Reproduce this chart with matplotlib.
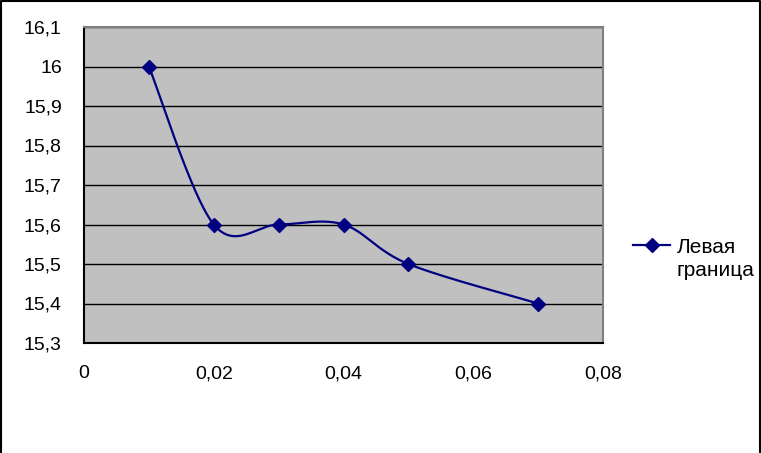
import numpy as np
import matplotlib
matplotlib.use("Agg")
import matplotlib.pyplot as plt
from matplotlib.lines import Line2D

# Data
x_vals = [0.01, 0.02, 0.03, 0.04, 0.05, 0.07]
y_vals = [16.0, 15.6, 15.6, 15.6, 15.5, 15.4]
series_name = "Левая\nграница"
x_ticks = [0, 0.02, 0.04, 0.06, 0.08]
x_tick_labels = ["0", "0,02", "0,04", "0,06", "0,08"]
y_ticks = [15.3, 15.4, 15.5, 15.6, 15.7, 15.8, 15.9, 16.0, 16.1]
y_tick_labels = ["15,3", "15,4", "15,5", "15,6", "15,7", "15,8", "15,9", "16", "16,1"]

plt.rcParams['font.family'] = ['Liberation Sans', 'DejaVu Sans']
W, H = 761, 453
fig = plt.figure(figsize=(W / 100, H / 100), dpi=100)
fig.patch.set_facecolor('white')

l, r, t, b = 84, 603, 27, 343
ax = fig.add_axes([l / W, 1 - b / H, (r - l) / W, (b - t) / H])
ax.set_facecolor('#C0C0C0')


def smooth(xs, ys, n=40):
    # Excel-style smoothed line (Catmull-Rom Bezier through the points)
    P = np.column_stack([xs, ys]).astype(float)
    out = []
    m = len(P)
    for i in range(m - 1):
        p0 = P[i - 1] if i > 0 else P[i]
        p1 = P[i]
        p2 = P[i + 1]
        p3 = P[i + 2] if i + 2 < m else P[i + 1]
        c1 = p1 + (p2 - p0) / 6
        c2 = p2 - (p3 - p1) / 6
        tt = np.linspace(0, 1, n)[:, None]
        seg = ((1 - tt) ** 3) * p1 + 3 * ((1 - tt) ** 2) * tt * c1 + 3 * (1 - tt) * tt ** 2 * c2 + tt ** 3 * p2
        out.append(seg if i == 0 else seg[1:])
    return np.vstack(out)


curve = smooth(x_vals, y_vals)
navy = '#000080'
ax.plot(curve[:, 0], curve[:, 1], color=navy, lw=1.6, zorder=3)
ax.plot(x_vals, y_vals, linestyle='none', marker='D', markersize=7, color=navy, zorder=4)

ax.set_xlim(0, 0.08)
ax.set_ylim(15.3, 16.1)
ax.set_xticks(x_ticks)
ax.set_xticklabels(x_tick_labels)
ax.set_yticks(y_ticks)
ax.set_yticklabels(y_tick_labels)
ax.tick_params(axis='both', length=0, labelsize=14)
ax.tick_params(axis='y', pad=16)
ax.tick_params(axis='x', pad=16)
ax.yaxis.grid(True, color='black', lw=1.0, zorder=1)
ax.set_axisbelow(True)
for side in ['left', 'bottom']:
    ax.spines[side].set_color('black')
    ax.spines[side].set_linewidth(1.5)
for side in ['top', 'right']:
    ax.spines[side].set_color('#808080')
    ax.spines[side].set_linewidth(1.5)

# Legend (manual)
ly = 1 - 245 / H
fig.add_artist(Line2D([633 / W, 670 / W], [ly, ly], color=navy, lw=1.6))
fig.add_artist(Line2D([651.5 / W], [ly], marker='D', markersize=7, color=navy, linestyle='none'))
fig.text(677 / W, 1 - 259 / H, series_name, fontsize=15, va='center', ha='left', linespacing=1.25)

# Outer border (left, top, right)
fig.add_artist(Line2D([0.5 / W, 0.5 / W, 760 / W, 760 / W], [0, 1 - 0.5 / H, 1 - 0.5 / H, 0], color='black', lw=1.5))

fig.savefig('out.png', dpi=100)
